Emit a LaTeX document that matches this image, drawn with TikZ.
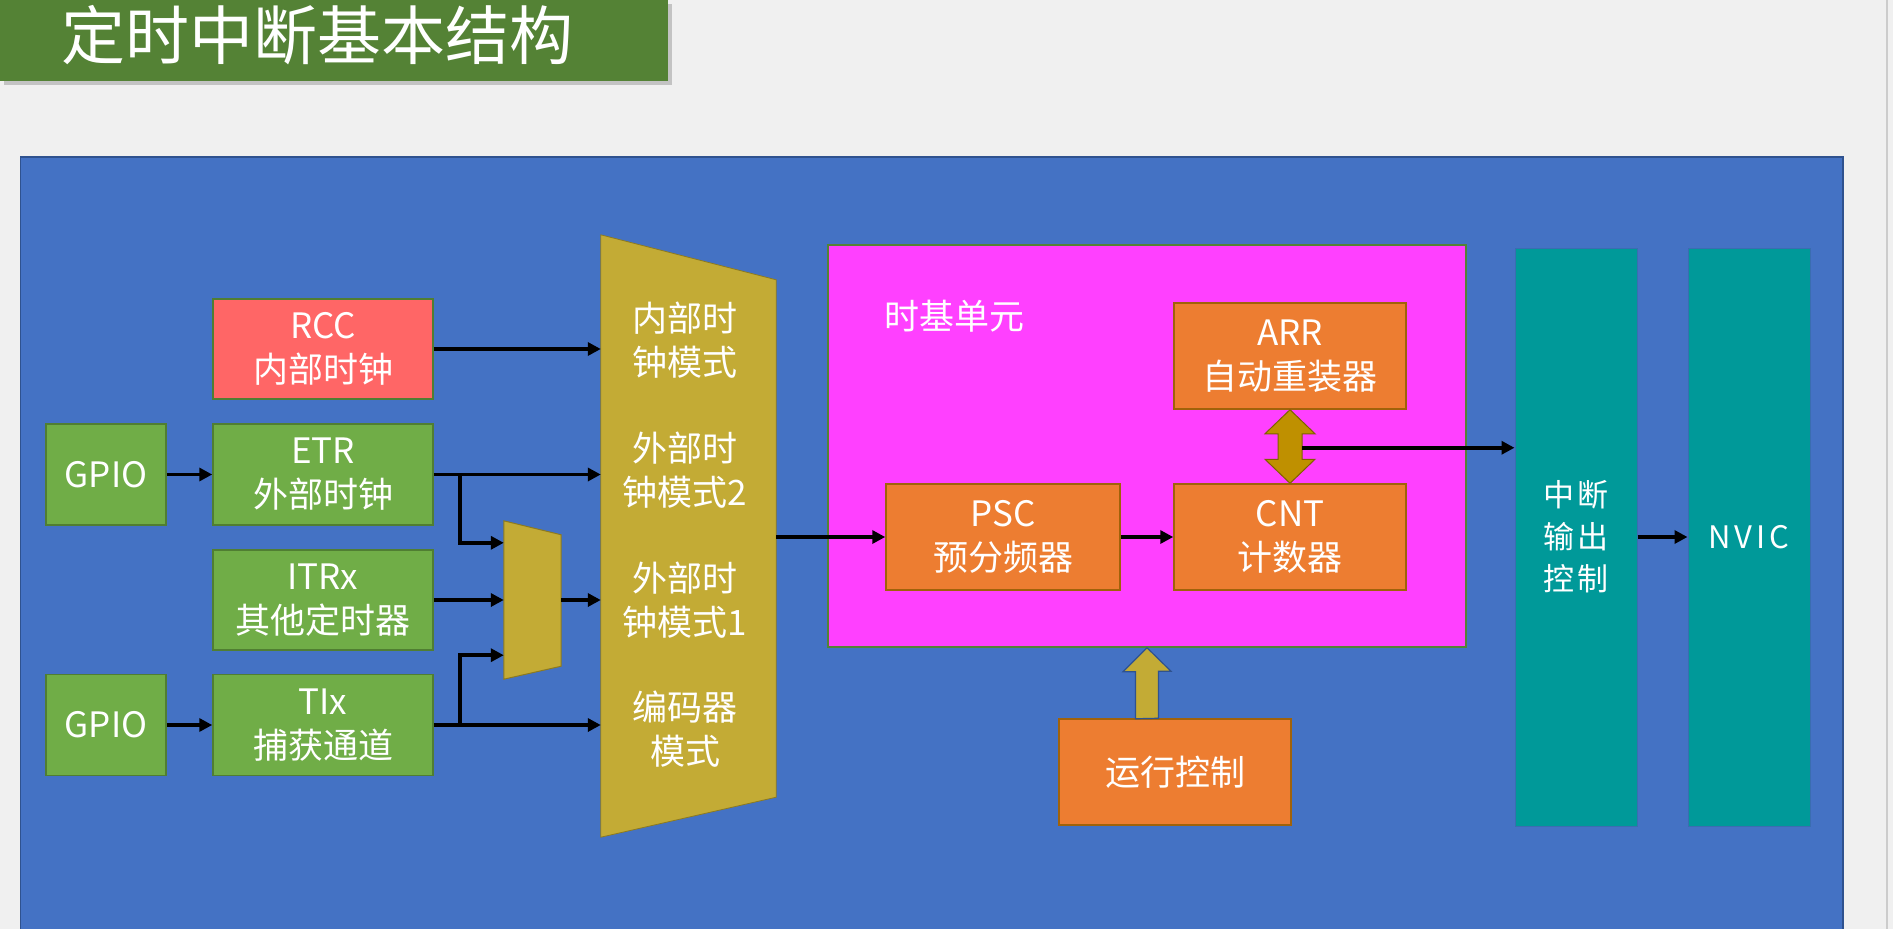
\documentclass[tikz,border=0pt]{standalone}
\usepackage{fontspec}
\setmainfont{Noto Sans CJK SC}
\newfontfamily\intfont[LetterSpace=12]{Noto Sans CJK SC}
\usetikzlibrary{arrows.meta,calc}
\definecolor{cbg}{HTML}{F0F0F0}
\definecolor{ctitle}{HTML}{548235}
\definecolor{cblue}{HTML}{4472C4}
\definecolor{cblueb}{HTML}{2F528F}
\definecolor{cred}{HTML}{FF6666}
\definecolor{cgreen}{HTML}{70AD47}
\definecolor{cgreenb}{HTML}{507E32}
\definecolor{cgold}{HTML}{C3AB35}
\definecolor{cgoldb}{HTML}{8C7A20}
\definecolor{cmag}{HTML}{FF40FF}
\definecolor{cmagb}{HTML}{548235}
\definecolor{corange}{HTML}{ED7D31}
\definecolor{corangeb}{HTML}{A0620A}
\definecolor{cdark}{HTML}{BF9000}
\definecolor{cdarkb}{HTML}{7F6000}
\definecolor{cteal}{HTML}{009999}
\definecolor{ctealb}{HTML}{3A6DB0}
\tikzset{
  box/.style={draw, line width=1.5pt, text=white, align=center, inner sep=0pt,
    font=\fontsize{35}{44}\selectfont},
  greenbox/.style={box, fill=cgreen, draw=cgreenb},
  redbox/.style={box, fill=cred, draw=cgreenb},
  orangebox/.style={box, fill=corange, draw=corangeb, minimum width=232, minimum height=106},
  tealbox/.style={box, fill=cteal, draw=ctealb, line width=1pt, minimum width=122, minimum height=578,
    font=\intfont\fontsize{31}{42}\selectfont},
  wtext/.style={text=white, align=center, inner sep=0pt, font=\fontsize{35}{44}\selectfont},
  arr/.style={line width=3.5pt, -{Triangle[length=13pt,width=13pt]}},
}
\begin{document}
\begin{tikzpicture}[x=1pt,y=-1pt]
\useasboundingbox (0,0) rectangle (1893,929);
\fill[cbg] (0,0) rectangle (1893,929);
\draw[color=black!20, line width=1.5pt] (1887,0) -- (1887,929);
% title
\fill[black!35, opacity=0.6] (4,4) rectangle (672,85);
\node[fill=ctitle, minimum width=668, minimum height=81, inner sep=0pt, anchor=north west] (titlebar) at (0,0) {};
\node[text=white, inner sep=0pt, font=\fontsize{64}{64}\selectfont] (title) at (317,35) {定时中断基本结构};
% panel
\filldraw[fill=cblue, draw=cblueb, line width=1.5pt] (20.5,157) rectangle (1843,940);
% left boxes
\node[redbox, minimum width=220, minimum height=100] (rcc) at (323,349) {RCC\\内部时钟};
\node[greenbox, minimum width=120, minimum height=101] (gpio1) at (106,474.5) {GPIO};
\node[greenbox, minimum width=220, minimum height=101] (etr) at (323,474.5) {ETR\\外部时钟};
\node[greenbox, minimum width=220, minimum height=100] (itrx) at (323,600) {ITRx\\其他定时器};
\node[greenbox, minimum width=120, minimum height=101] (gpio2) at (106,725) {GPIO};
\node[greenbox, minimum width=220, minimum height=101] (tix) at (323,725) {TIx\\捕获通道};
% small mux
\node[minimum width=57, minimum height=158, inner sep=0pt] (mux) at (532.5,600) {};
\filldraw[fill=cgold, draw=cgoldb, line width=1pt] (mux.north west) -- ($(mux.north east)+(0,14)$)
  -- ($(mux.south east)+(0,-13)$) -- (mux.south west) -- cycle;
% big mux
\node[minimum width=175, minimum height=602, inner sep=0pt] (big) at (688.5,536) {};
\filldraw[fill=cgold, draw=cgoldb, line width=0.8pt] (big.north west) -- ($(big.north east)+(0,45)$)
  -- ($(big.south east)+(0,-40)$) -- (big.south west) -- cycle;
\node[wtext] (m1) at (685,340) {内部时\\钟模式};
\node[wtext] (m2) at (685,470) {外部时\\钟模式2};
\node[wtext] (m3) at (685,600) {外部时\\钟模式1};
\node[wtext] (m4) at (685,729) {编码器\\模式};
% left connectors
\draw[arr] (rcc.east) -- (rcc.east -| big.west);
\draw[arr] (gpio1.east) -- (etr.west);
\draw[arr] (etr.east) -- (etr.east -| big.west);
\draw[arr] ($(etr.east)+(26,0)$) |- ($(mux.north west)+(0,22)$);
\draw[arr] (itrx.east) -- (itrx.east -| mux.west);
\draw[arr] (mux.east) -- (mux.east -| big.west);
\draw[arr] (gpio2.east) -- (tix.west);
\draw[arr] (tix.east) -- (tix.east -| big.west);
\draw[arr] ($(tix.east)+(26,0)$) |- ($(mux.south west)+(0,-24)$);
% time base unit
\node[draw=cmagb, fill=cmag, line width=1.5pt, minimum width=638, minimum height=402, inner sep=0pt] (tb) at (1147,446) {};
\node[wtext, anchor=west] (tblabel) at (884,316) {时基单元};
\node[orangebox] (arrbox) at (1290,356) {ARR\\自动重装器};
\node[orangebox, minimum width=234] (psc) at (1003,537) {PSC\\预分频器};
\node[orangebox] (cnt) at (1290,537) {CNT\\计数器};
\draw[arr] (big.east |- psc.west) -- (psc.west);
\draw[arr] (psc.east) -- (cnt.west);
% double arrow ARR <-> CNT
\filldraw[fill=cdark, draw=cdarkb, line width=1pt]
  (arrbox.south) -- ++(25,24) -- ++(-13,0) -- ($(cnt.north)+(12,-24)$) -- ++(13,0) -- (cnt.north)
  -- ++(-25,-24) -- ++(13,0) -- ($(arrbox.south)+(-12,24)$) -- ++(-13,0) -- cycle;
% interrupt output / NVIC
\node[tealbox] (int) at (1576,537) {中断\\输出\\控制};
\node[tealbox] (nvic) at (1749,537) {NVIC};
\coordinate (dblr) at ($(arrbox.south)+(12,38)$);
\draw[arr] (dblr) -- (dblr -| int.west);
\draw[arr] (int.east) -- (nvic.west);
% run control
\node[orangebox] (run) at (1175,772) {运行控制};
\filldraw[fill=cgold, draw=cblueb, line width=1.2pt]
  (run.north -| tb.south) ++(11.5,0) -- ++(0,-47) -- ++(12.5,0) -- (tb.south) -- ++(-24,24)
  -- ++(12.5,0) -- ++(0,47) -- cycle;
\end{tikzpicture}
\end{document}
